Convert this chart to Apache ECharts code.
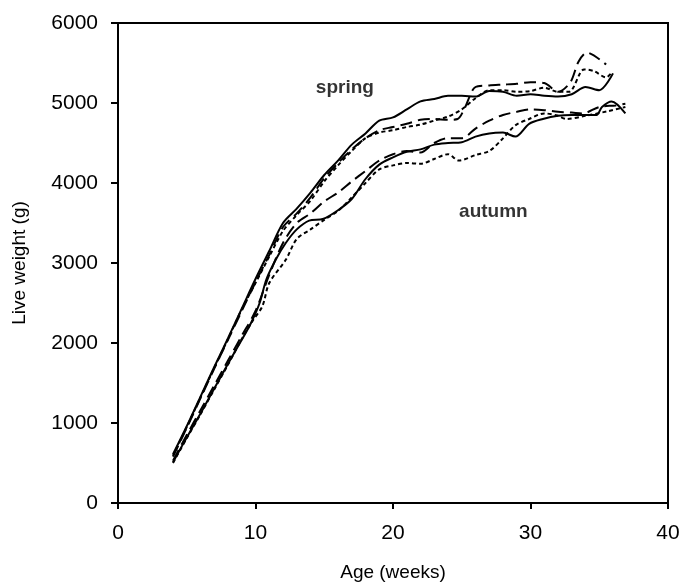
<!DOCTYPE html>
<html>
<head>
<meta charset="utf-8">
<script src="https://cdn.jsdelivr.net/npm/echarts@6/dist/echarts.min.js"></script>
<style>
html,body{margin:0;padding:0;background:#fff;}
#chart{width:683px;height:587px;}
</style>
</head>
<body>
<div id="chart"></div>
<script>
// Age (weeks) / live weight (g) pairs
const springSolidWeeks = [4,5,6,7,8,9,10,11,12,13,14,15,16,17,18,19,20,21,22,23,24,25,26,27,28,29,30,31,32,33,34,35,36];
const springSolidValues = [610,960,1330,1700,2060,2430,2800,3150,3500,3680,3880,4100,4280,4480,4620,4780,4820,4920,5020,5050,5090,5090,5080,5150,5140,5090,5110,5090,5080,5110,5200,5160,5370];

const springLongWeeks = [4,5,6,7,8,9,10,11,12,13,14,15,16,17,18,19,20,21,22,23,24,24.7,25.2,26,27,28,29,30,31,32,32.9,33.5,34.1,35.5];
const springLongValues = [580,940,1310,1680,2040,2400,2760,3100,3450,3620,3820,4060,4250,4420,4560,4660,4700,4740,4790,4800,4790,4800,4930,5200,5220,5230,5240,5260,5250,5140,5260,5520,5630,5480];

const springShortWeeks = [4,5,6,7,8,9,10,11,12,13,14,15,16,17,18,19,20,21,22,23,24,25,26,27,28,29,30,31,32,32.8,33.9,34.6,35.5,35.9];
const springShortValues = [590,950,1320,1690,2050,2420,2750,3080,3400,3600,3780,4020,4220,4400,4560,4630,4660,4700,4730,4780,4830,4920,5060,5160,5160,5140,5150,5190,5140,5140,5420,5400,5320,5380];

const autumnSolidWeeks = [4,5,6,7,8,9,9.7,10.3,10.8,11.5,12.2,13,13.9,14.9,16,17,18,19,20,21,22,23,24,25,26,27,28,28.9,29.9,30.9,32,33,34,34.8,35.2,35.9,36.9];
const autumnSolidValues = [510,820,1120,1430,1740,2040,2260,2500,2800,3050,3250,3420,3530,3550,3660,3800,4050,4230,4320,4390,4420,4480,4500,4510,4580,4620,4630,4580,4740,4800,4840,4850,4850,4850,4950,5020,4870];

const autumnLongWeeks = [4,5,6,7,8,9,10,11,12,13,14,15,16,17,18,19,20,21,22,23,24,25,26,27,28,29,30,31,32,33,33.8,35,36.2,36.9];
const autumnLongValues = [530,850,1160,1470,1780,2090,2400,2850,3250,3500,3620,3770,3880,4020,4150,4280,4360,4400,4380,4500,4560,4560,4680,4780,4850,4890,4920,4910,4890,4880,4870,4950,4970,4990];

const autumnShortWeeks = [4,5,6,7,8,9,9.8,10.5,11,12.2,13,14,15,16,17,18,19,20,21,22,23,24,24.8,26,27,27.9,28.9,29.9,31,32,32.6,34,35.7,36.9];
const autumnShortValues = [500,810,1110,1420,1730,2050,2280,2460,2750,3040,3300,3420,3540,3650,3820,4000,4170,4220,4250,4240,4300,4360,4280,4350,4400,4540,4720,4800,4870,4840,4800,4840,4900,4950];

const xTicks = [0,10,20,30,40];
const yTicks = [0,1000,2000,3000,4000,5000,6000];
const annotationLabels = ['spring','autumn'];
const annotationWeeks = [16.5,27.3];
const annotationValues = [5190,3640];

function pairs(xs, ys){ return xs.map((x,i)=>[x, ys[i]]); }

const seriesDefs = [
  {name:'spring solid', d:pairs(springSolidWeeks, springSolidValues), type:'solid'},
  {name:'spring long dash', d:pairs(springLongWeeks, springLongValues), type:[12,6]},
  {name:'spring short dash', d:pairs(springShortWeeks, springShortValues), type:[4,3]},
  {name:'autumn solid', d:pairs(autumnSolidWeeks, autumnSolidValues), type:'solid'},
  {name:'autumn long dash', d:pairs(autumnLongWeeks, autumnLongValues), type:[12,6]},
  {name:'autumn short dash', d:pairs(autumnShortWeeks, autumnShortValues), type:[4,3]}
];

const font = '"Liberation Sans", Arial, sans-serif';
const chart = echarts.init(document.getElementById('chart'), null, {renderer:'canvas'});

const series = seriesDefs.map(s => ({
  name: s.name, type:'line', data:s.d, showSymbol:false, smooth:0.3,
  lineStyle:{color:'#000', width:2, type:s.type}, z:3
}));
series.push({
  type:'scatter', symbolSize:0,
  data: annotationLabels.map((t,i)=>({value:[annotationWeeks[i], annotationValues[i]], name:t})),
  label:{show:true, position:'inside', formatter:p=>p.name, color:'#000', fontFamily:font, fontWeight:'bold', fontSize:19, textBorderWidth:0},
  z:4
});

chart.setOption({
  animation:false,
  backgroundColor:'#fff',
  grid:{left:118, right:15, top:23, bottom:77, show:true, borderColor:'#000', borderWidth:2, backgroundColor:'transparent'},
  xAxis:{
    type:'value', min:xTicks[0], max:xTicks[xTicks.length-1], interval:10,
    name:'Age (weeks)', nameLocation:'middle', nameGap:60,
    nameTextStyle:{fontFamily:font, fontSize:19, color:'#000'},
    axisLine:{show:true, lineStyle:{color:'#000', width:2}},
    axisTick:{show:true, inside:false, length:6, lineStyle:{color:'#000', width:2}},
    axisLabel:{margin:20, fontFamily:font, fontSize:21, color:'#000', formatter:v=>String(v)},
    splitLine:{show:false}
  },
  yAxis:{
    type:'value', min:yTicks[0], max:yTicks[yTicks.length-1], interval:1000,
    name:'Live weight (g)', nameLocation:'middle', nameGap:89,
    nameTextStyle:{fontFamily:font, fontSize:19, color:'#000'},
    axisLine:{show:true, lineStyle:{color:'#000', width:2}},
    axisTick:{show:true, inside:false, length:7, lineStyle:{color:'#000', width:2}},
    axisLabel:{margin:20, fontFamily:font, fontSize:21, color:'#000', formatter:v=>String(v)},
    splitLine:{show:false}
  },
  series: series
});
</script>
</body>
</html>
